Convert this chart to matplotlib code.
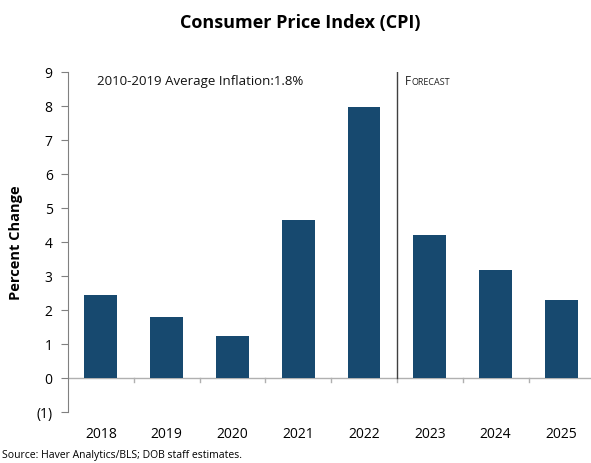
import matplotlib.pyplot as plt

years = ["2018", "2019", "2020", "2021", "2022", "2023", "2024", "2025"]
cpi = [2.43, 1.79, 1.23, 4.66, 7.98, 4.22, 3.17, 2.29]
yticks = [-1, 0, 1, 2, 3, 4, 5, 6, 7, 8, 9]
ylabels = ["(1)", "0", "1", "2", "3", "4", "5", "6", "7", "8", "9"]

plt.rcParams["font.family"] = ["Open Sans", "DejaVu Sans"]

fig = plt.figure(figsize=(5.91, 4.64), dpi=100)
ax = fig.add_axes([68 / 591, 1 - 413 / 464, 523 / 591, 340 / 464])

x = range(len(years))
ax.bar(x, cpi, width=0.5, color="#17496f", zorder=3)

ax.set_xlim(-0.5, 7.45)
ax.set_ylim(-1, 9)
ax.set_yticks(yticks)
ax.set_yticklabels(ylabels, fontsize=10)
ax.set_xticks(list(x))
ax.set_xticklabels(years, fontsize=10)
ax.tick_params(axis="x", length=0, pad=10)
ax.tick_params(axis="y", length=5, color="#808080", pad=6)

for s in ["top", "right", "bottom"]:
    ax.spines[s].set_visible(False)
ax.spines["left"].set_color("#808080")

# zero line with category ticks
ax.axhline(0, color="#b0b0b0", lw=1, zorder=2)
for b in range(1, len(years)):
    ax.plot([b - 0.5, b - 0.5], [0, -0.12], color="#b0b0b0", lw=1)

# forecast divider
ax.plot([4.5, 4.5], [0, 9], color="#404040", lw=1)
ax.text(4.62, 8.75, "F", fontsize=8.5, color="#222222", va="center")
ax.text(4.725, 8.72, "ORECAST", fontsize=6.5, color="#222222", va="center")

ax.text(-0.06, 8.75, "2010-2019 Average Inflation:1.8%", fontsize=9.5,
        color="#111111", va="center")

ax.set_ylabel("Percent Change", fontsize=10.5, fontweight="bold", labelpad=10)

fig.text(0.508, 0.951, "Consumer Price Index (CPI)", fontsize=13,
         fontweight="bold", ha="center", va="center")
fig.text(0.003, 0.006, "Source: Haver Analytics/BLS; DOB staff estimates.",
         fontsize=7.5, ha="left", va="bottom")

fig.savefig("out.png", dpi=100)
